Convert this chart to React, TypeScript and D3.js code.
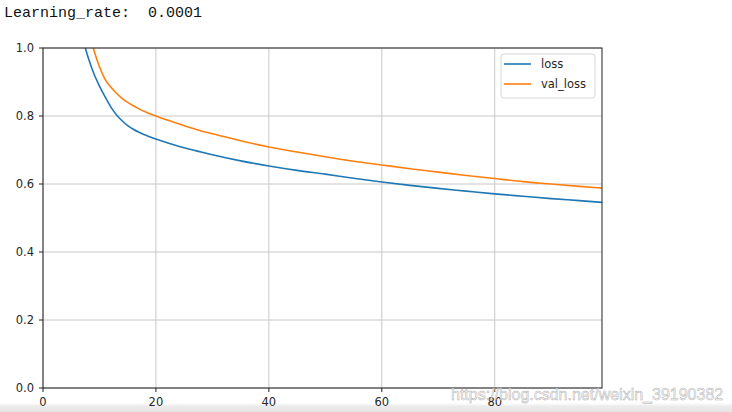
import React from "react";
import * as d3 from "d3";

const lossEpochs = [6, 7, 8, 9, 10, 11, 12, 13, 14, 15, 16, 17, 18, 19, 20, 22, 24, 26, 28, 30, 35, 40, 45, 50, 55, 60, 65, 70, 75, 80, 85, 90, 95, 99];
const lossValues = [1.1, 1.03, 0.972, 0.925, 0.888, 0.856, 0.827, 0.804, 0.786, 0.772, 0.761, 0.752, 0.745, 0.738, 0.732, 0.721, 0.711, 0.702, 0.694, 0.686, 0.668, 0.653, 0.64, 0.629, 0.617, 0.606, 0.596, 0.587, 0.579, 0.571, 0.564, 0.557, 0.551, 0.546];

const valEpochs = [7, 8, 9, 10, 11, 12, 13, 14, 15, 16, 17, 18, 19, 20, 22, 24, 26, 28, 30, 35, 40, 45, 50, 55, 60, 65, 70, 75, 80, 85, 90, 95, 99];
const valValues = [1.13, 1.06, 0.995, 0.945, 0.908, 0.885, 0.867, 0.852, 0.84, 0.83, 0.821, 0.813, 0.806, 0.8, 0.788, 0.777, 0.766, 0.756, 0.748, 0.727, 0.709, 0.694, 0.68, 0.667, 0.656, 0.645, 0.635, 0.625, 0.616, 0.607, 0.6, 0.593, 0.588];

const xTicks = [0, 20, 40, 60, 80];
const yTicks = [0, 0.2, 0.4, 0.6, 0.8, 1.0];
const seriesNames = ["loss", "val_loss"];
const seriesColors = ["#1f77b4", "#ff7f0e"];
const headerLabel = "Learning_rate:";
const headerValue = "0.0001";
const watermark = "https://blog.csdn.net/weixin_39190382";

const W = 732;
const H = 412;
const left = 43;
const right = 602;
const top = 48;
const bottom = 388;

export default function App() {
  const x = d3.scaleLinear().domain([0, 99]).range([left, right]);
  const y = d3.scaleLinear().domain([0, 1]).range([bottom, top]);
  const line = d3
    .line<[number, number]>()
    .x((d) => x(d[0]))
    .y((d) => y(d[1]))
    .curve(d3.curveMonotoneX);
  const series = [
    lossEpochs.map((e, i) => [e, lossValues[i]] as [number, number]),
    valEpochs.map((e, i) => [e, valValues[i]] as [number, number]),
  ];
  const tickFont = "DejaVu Sans, sans-serif";
  return (
    <svg
      width={W}
      height={H}
      style={{ position: "absolute", left: 0, top: 0, background: "#fff" }}
    >
      <defs>
        <clipPath id="plotclip">
          <rect x={left} y={top} width={right - left} height={bottom - top} />
        </clipPath>
        <linearGradient id="bottomband" x1="0" y1="0" x2="0" y2="1">
          <stop offset="0" stopColor="#ffffff" />
          <stop offset="0.35" stopColor="#ececec" />
          <stop offset="1" stopColor="#e4e4e4" />
        </linearGradient>
      </defs>
      <rect x={0} y={0} width={W} height={H} fill="#fff" />
      <rect x={0} y={403} width={W} height={9} fill="url(#bottomband)" />
      <text
        x={4}
        y={17}
        fontFamily="Liberation Mono, monospace"
        fontSize={15}
        fill="#111"
        xmlSpace="preserve"
      >
        {headerLabel + "  " + headerValue}
      </text>
      {/* grid */}
      {xTicks.map((t) => (
        <line key={"gx" + t} x1={x(t)} x2={x(t)} y1={top} y2={bottom} stroke="#c8c8c8" strokeWidth={1} />
      ))}
      {yTicks.map((t) => (
        <line key={"gy" + t} x1={left} x2={right} y1={y(t)} y2={y(t)} stroke="#c8c8c8" strokeWidth={1} />
      ))}
      {/* lines */}
      <g clipPath="url(#plotclip)">
        {series.map((s, i) => (
          <path key={i} d={line(s) || ""} fill="none" stroke={seriesColors[i]} strokeWidth={1.6} />
        ))}
      </g>
      {/* frame */}
      <rect x={left} y={top} width={right - left} height={bottom - top} fill="none" stroke="#222" strokeWidth={1} />
      {/* ticks */}
      {xTicks.map((t) => (
        <g key={"tx" + t}>
          <line x1={x(t)} x2={x(t)} y1={bottom} y2={bottom + 4} stroke="#222" />
          <text x={x(t)} y={406} textAnchor="middle" fontFamily={tickFont} fontSize={11.5} fill="#262626">
            {t}
          </text>
        </g>
      ))}
      {yTicks.map((t) => (
        <g key={"ty" + t}>
          <line x1={left - 4} x2={left} y1={y(t)} y2={y(t)} stroke="#222" />
          <text x={34} y={y(t)} dy="0.36em" textAnchor="end" fontFamily={tickFont} fontSize={11.5} fill="#262626">
            {t.toFixed(1)}
          </text>
        </g>
      ))}
      {/* legend */}
      <rect x={501} y={54} width={94} height={44} rx={3} fill="#fff" fillOpacity={0.85} stroke="#d6d6d6" />
      {seriesNames.map((n, i) => (
        <g key={n}>
          <line x1={504} x2={531} y1={64 + i * 20} y2={64 + i * 20} stroke={seriesColors[i]} strokeWidth={1.6} />
          <text x={541} y={64 + i * 20} dy="0.36em" fontFamily={tickFont} fontSize={11.5} fill="#262626">
            {n}
          </text>
        </g>
      ))}
      {/* watermark */}
      <text
        x={451}
        y={400}
        fontFamily="Liberation Sans, Arial, sans-serif"
        fontSize={16}
        fill="#f4f4f4"
        fillOpacity={0.7}
        stroke="#b4b4b4"
        strokeWidth={0.5}
      >
        {watermark}
      </text>
    </svg>
  );
}
